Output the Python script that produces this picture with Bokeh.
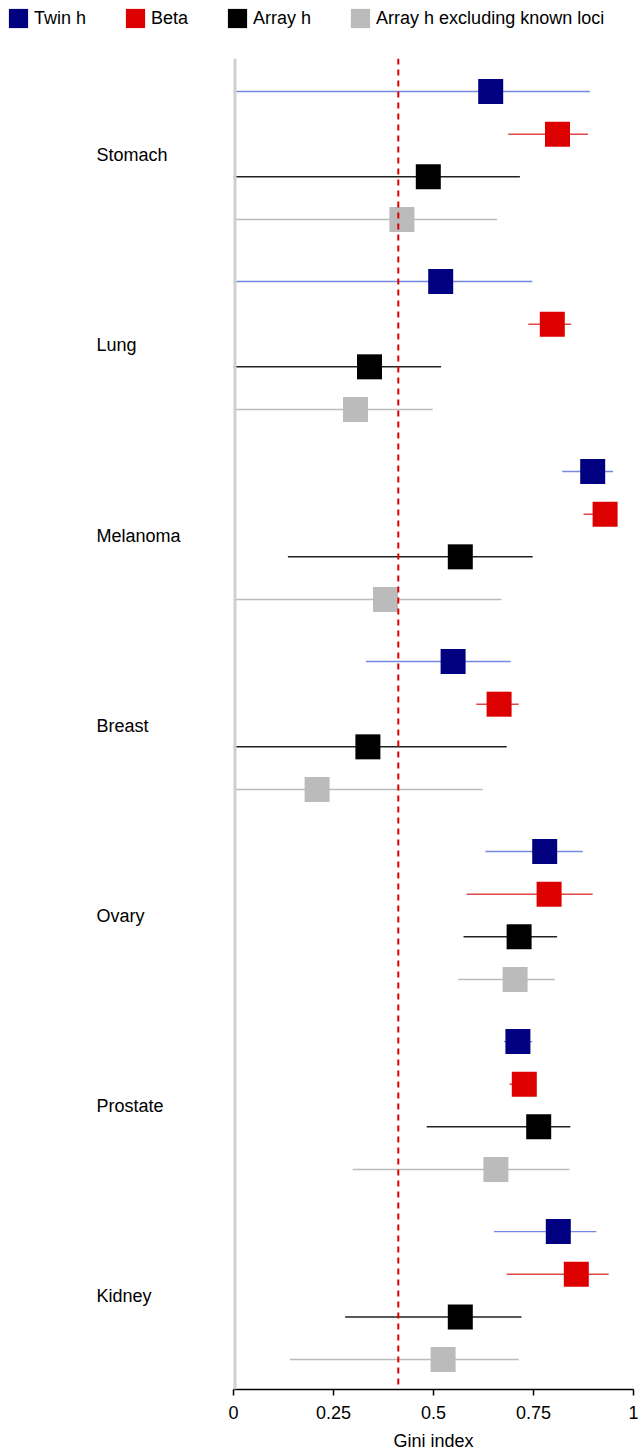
from bokeh.plotting import figure
from bokeh.layouts import column, row
from bokeh.models import (ColumnDataSource, Range1d, FixedTicker, Span, Legend,
                          LegendItem, LabelSet)
from bokeh.core.properties import value
from bokeh.embed import file_html
from bokeh.resources import INLINE

# Cancer sites (top to bottom) and the four estimates drawn for each
sites = ["Stomach", "Lung", "Melanoma", "Breast", "Ovary", "Prostate", "Kidney"]
series_names = ["Twin h", "Beta", "Array h", "Array h excluding known loci"]

twin_est = [0.643, 0.518, 0.898, 0.549, 0.778, 0.711, 0.812]
twin_lo = [0.0, 0.0, 0.822, 0.331, 0.630, 0.676, 0.651]
twin_hi = [0.891, 0.747, 0.949, 0.693, 0.873, 0.747, 0.907]

beta_est = [0.810, 0.797, 0.929, 0.664, 0.789, 0.727, 0.857]
beta_lo = [0.687, 0.737, 0.875, 0.607, 0.583, 0.690, 0.683]
beta_hi = [0.886, 0.844, 0.945, 0.713, 0.898, 0.745, 0.938]

array_est = [0.487, 0.340, 0.567, 0.336, 0.714, 0.763, 0.567]
array_lo = [0.0, 0.0, 0.136, 0.0, 0.575, 0.483, 0.279]
array_hi = [0.716, 0.519, 0.748, 0.683, 0.809, 0.842, 0.720]

excl_est = [0.421, 0.305, 0.380, 0.209, 0.704, 0.656, 0.524]
excl_lo = [0.0, 0.0, 0.0, 0.0, 0.562, 0.298, 0.141]
excl_hi = [0.659, 0.498, 0.670, 0.623, 0.803, 0.840, 0.713]

reference_gini = 0.412

x_ticks = [0, 0.25, 0.5, 0.75, 1]
x_tick_labels = ["0", "0.25", "0.5", "0.75", "1"]

FONT = "Liberation Sans"
FONT_SIZE = "18px"
GROUP_STEP = 4.453   # rows per site block, including the gap between blocks

marker_colors = ["#000080", "#dd0000", "#000000", "#bbbbbb"]
line_colors = ["#7389e2", "#e04848", "#222222", "#bbbbbb"]
line_widths = [1.3, 1.5, 1.5, 1.5]

W, H = 638, 1453
LEGEND_H = 58
LABEL_W = 227
BOTTOM = 64


def bare(fig):
    fig.outline_line_color = None
    fig.xgrid.visible = False
    fig.ygrid.visible = False
    return fig


rows_range = Range1d(30.42, -0.773)

# ---- main panel: Gini estimates with intervals
p = bare(figure(width=W - LABEL_W, height=H - LEGEND_H, output_backend="svg",
                toolbar_location=None, x_range=Range1d(0, 1), y_range=rows_range,
                y_axis_location=None, min_border_left=6, min_border_right=5,
                min_border_top=0, min_border_bottom=BOTTOM))

ax = p.xaxis[0]
ax.ticker = FixedTicker(ticks=x_ticks)
ax.major_label_overrides = {t: s for t, s in zip(x_ticks, x_tick_labels)}
ax.minor_tick_line_color = None
ax.major_tick_out = 6
ax.major_tick_in = 0
ax.axis_line_width = 1.5
ax.major_tick_line_width = 1.5
ax.major_label_text_font = FONT
ax.major_label_text_font_size = FONT_SIZE
ax.major_label_text_color = "#000000"
ax.major_label_standoff = 10
ax.axis_label = "Gini index"
ax.axis_label_text_font = FONT
ax.axis_label_text_font_size = FONT_SIZE
ax.axis_label_text_font_style = "normal"
ax.axis_label_text_color = "#000000"
ax.axis_label_standoff = 9

# Grey baseline at zero (half of it falls outside the clipped frame) and the
# dashed reference value
p.add_layout(Span(location=0, dimension="height", line_color="#d0d0d0", line_width=6))
p.add_layout(Span(location=reference_gini, dimension="height", line_color="#dd0000",
                  line_width=2, line_dash="6 5"))

all_series = [
    (twin_est, twin_lo, twin_hi),
    (beta_est, beta_lo, beta_hi),
    (array_est, array_lo, array_hi),
    (excl_est, excl_lo, excl_hi),
]

for r, (est, lo, hi) in enumerate(all_series):
    ys = [g * GROUP_STEP + r for g in range(len(sites))]
    src = ColumnDataSource(dict(y=ys, est=est, lo=lo, hi=hi))
    p.segment(x0="lo", y0="y", x1="hi", y1="y", source=src,
              line_color=line_colors[r], line_width=line_widths[r])
    p.rect(x="est", y="y", width=25, height=25, width_units="screen",
           height_units="screen", source=src, fill_color=marker_colors[r],
           line_color=None)

# ---- left panel: site names
lab = bare(figure(width=LABEL_W, height=H - LEGEND_H, output_backend="svg",
                  toolbar_location=None, x_range=Range1d(0, LABEL_W), y_range=rows_range,
                  x_axis_location=None, y_axis_location=None,
                  min_border_left=0, min_border_right=0, min_border_top=0,
                  min_border_bottom=BOTTOM))
label_src = ColumnDataSource(dict(
    name=sites, y=[g * GROUP_STEP + 1.5 for g in range(len(sites))]))
lab.add_layout(LabelSet(x=96, y="y", text="name", source=label_src,
                        text_font=value(FONT), text_font_size=value(FONT_SIZE),
                        text_color="#000000", text_align="left",
                        text_baseline="middle"))

# ---- top strip: legend (key glyphs carry no drawable points)
top = bare(figure(width=W, height=LEGEND_H, output_backend="svg", toolbar_location=None,
                  x_range=Range1d(0, 1), y_range=Range1d(0, 1),
                  x_axis_location=None, y_axis_location=None,
                  min_border_left=0, min_border_right=0, min_border_top=0,
                  min_border_bottom=0))
items = []
nan = float("nan")
for r, name in enumerate(series_names):
    key = top.rect(x=[nan], y=[nan], width=1, height=1, fill_color=marker_colors[r],
                   line_color=None)
    items.append(LegendItem(label=name, renderers=[key]))

legend = Legend(items=items, orientation="horizontal", location=(6.0, 28),
                glyph_width=24, glyph_height=24, label_height=24,
                label_standoff=4, spacing=37, padding=0, margin=0,
                border_line_color=None, background_fill_alpha=0,
                label_text_font=FONT, label_text_font_size=FONT_SIZE,
                label_text_color="#000000")
top.add_layout(legend)

layout = column(top, row(lab, p))
open("out.html", "w").write(file_html(layout, INLINE))
